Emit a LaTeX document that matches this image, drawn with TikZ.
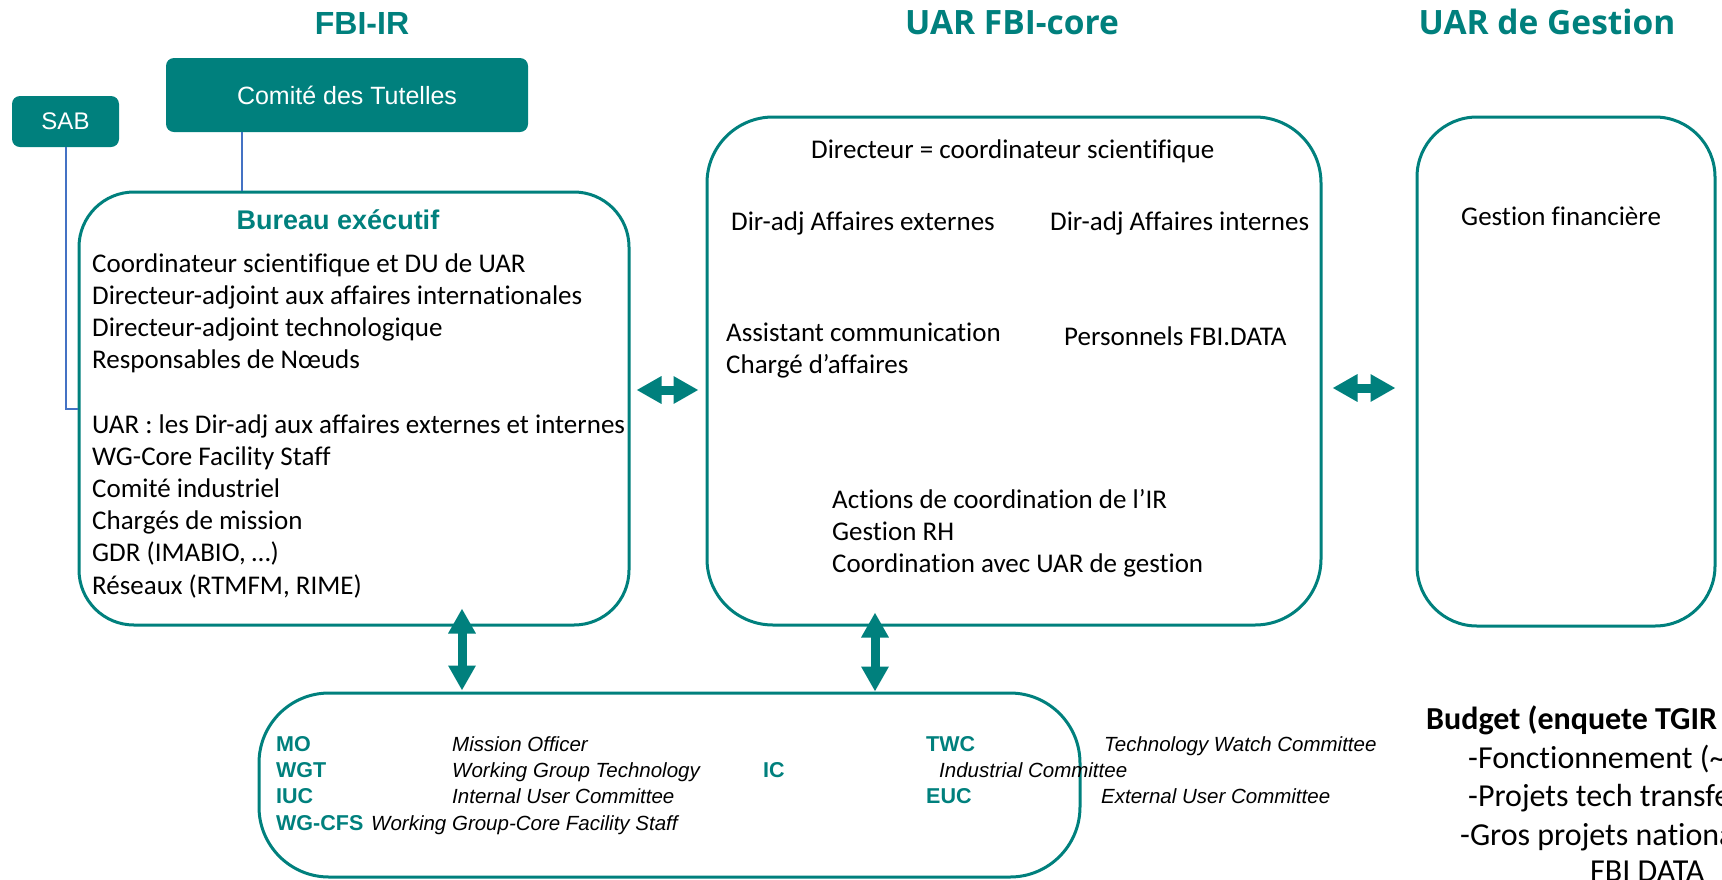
\documentclass[tikz,border=0pt]{standalone}
\usepackage{fontspec}
\setmainfont{Carlito}[Ligatures=NoCommon]
\newfontfamily\osans{Open Sans}
\newfontfamily\lsans{Liberation Sans}
\usetikzlibrary{arrows.meta}
\definecolor{tealc}{RGB}{0,128,125}
\definecolor{linkblue}{RGB}{68,114,196}
\tikzset{
  box/.style={draw=tealc, line width=3pt, rounded corners=#1, inner sep=0pt},
  fillbox/.style={fill=tealc, rounded corners=8pt, inner sep=0pt, text=white,
    font=\lsans\fontsize{25}{30}\selectfont},
  title/.style={anchor=base, inner sep=0pt, text=tealc,
    font=\osans\bfseries\fontsize{33.5}{40}\selectfont},
  body/.style={anchor=base west, inner sep=0pt, text=black,
    font=\fontsize{27}{32.2}\selectfont},
  bud/.style={anchor=base west, inner sep=0pt, text=black,
    font=\fontsize{32}{38}\selectfont},
  abbr/.style={anchor=base west, inner sep=0pt, text=tealc,
    font=\lsans\bfseries\fontsize{21.5}{25}\selectfont},
  desc/.style={anchor=base west, inner sep=0pt, text=black,
    font=\lsans\itshape\fontsize{20.5}{24}\selectfont},
  link/.style={draw=linkblue, line width=2pt},
  dbl/.style={draw=tealc, line width=9pt,
    {Triangle[width=26pt,length=25pt]}-{Triangle[width=26pt,length=25pt]}}
}
\begin{document}
\begin{tikzpicture}[x=1pt,y=-1pt]
\useasboundingbox (0,0) rectangle (1722,879);
\clip (0,0) rectangle (1722,879);

% titles
\node[title, font=\lsans\bfseries\fontsize{32}{38}\selectfont] (t1) at (362,34) {FBI-IR};
\node[title] (t2) at (1012,34) {UAR FBI-core};
\node[title] (t3) at (1547,34) {UAR de Gestion};

% main boxes
\node[box=55pt, minimum width=550pt, minimum height=433pt] (bur) at (354,408.5) {};
\node[box=66pt, minimum width=614pt, minimum height=508pt] (mid) at (1014,371) {};
\node[box=60pt, minimum width=298pt, minimum height=509pt] (ges) at (1566,371.5) {};
\node[box=70pt, minimum width=821pt, minimum height=184pt] (bot) at (669.5,785) {};

% filled boxes
\node[fillbox, minimum width=362pt, minimum height=74pt] (com) at (347,95) {Comité des Tutelles};
\node[fillbox, minimum width=107pt, minimum height=51pt, font=\lsans\fontsize{24}{29}\selectfont] (sab) at (65.5,121.5) {SAB};

% links
\coordinate (tx) at (242,0);
\draw[link] (com.south -| tx) -- (bur.north -| tx);
\draw[link] (sab.south) |- (bur.west);

% Bureau
\node[anchor=base, inner sep=0pt, text=tealc, font=\lsans\bfseries\fontsize{27}{32}\selectfont] (bt) at (338,229) {Bureau exécutif};
\node[body] (b1) at (92,272) {Coordinateur scientifique et DU de UAR};
\node[body] (b2) at (92,304.2) {Directeur-adjoint aux affaires internationales};
\node[body] (b3) at (92,336.4) {Directeur-adjoint technologique};
\node[body] (b4) at (92,368.6) {Responsables de Nœuds};
\node[body] (b5) at (92,433) {UAR : les Dir-adj aux affaires externes et internes};
\node[body] (b6) at (92,465.2) {WG-Core Facility Staff};
\node[body] (b7) at (92,497.4) {Comité industriel};
\node[body] (b8) at (92,529.6) {Chargés de mission};
\node[body] (b9) at (92,561.8) {GDR (IMABIO, …)};
\node[body] (b10) at (92,594) {Réseaux (RTMFM, RIME)};

% Middle
\node[body] (m1) at (811,158) {Directeur = coordinateur scientifique};
\node[body] (m2) at (731,230) {Dir-adj Affaires externes};
\node[body] (m3) at (1050,230) {Dir-adj Affaires internes};
\node[body] (m4) at (726,341) {Assistant communication};
\node[body] (m5) at (726,373) {Chargé d’affaires};
\node[body] (m6) at (1064,345) {Personnels FBI.DATA};
\node[body] (m7) at (832,508) {Actions de coordination de l’IR};
\node[body] (m8) at (832,540) {Gestion RH};
\node[body] (m9) at (832,572) {Coordination avec UAR de gestion};

% Gestion
\node[body] (g1) at (1461,225) {Gestion financière};

% bottom legend
\node[abbr] (a1) at (276,751) {MO};
\node[desc] (d1) at (452,751) {Mission Officer};
\node[abbr] (a2) at (926,751) {TWC};
\node[desc] (d2) at (1104,751) {Technology Watch Committee};
\node[abbr] (a3) at (276,777) {WGT};
\node[desc] (d3) at (452,777) {Working Group Technology};
\node[abbr] (a4) at (763,777) {IC};
\node[desc] (d4) at (939,777) {Industrial Committee};
\node[abbr] (a5) at (276,803) {IUC};
\node[desc] (d5) at (452,803) {Internal User Committee};
\node[abbr] (a6) at (926,803) {EUC};
\node[desc] (d6) at (1101,803) {External User Committee};
\node[abbr] (a7) at (276,830) {WG-CFS};
\node[desc] (d7) at (371,830) {Working Group-Core Facility Staff};

% Budget
\node[bud, font=\bfseries\fontsize{32}{38}\selectfont] (u0) at (1426,729) {Budget (enquete TGIR (};
\node[bud] (u1) at (1468,768) {-Fonctionnement (\textasciitilde};
\node[bud] (u2) at (1468,806) {-Projets tech transfe};
\node[bud] (u3) at (1460,845) {-Gros projets nationa};
\node[bud] (u4) at (1590,881) {FBI DATA};

% arrows
\coordinate (h1) at (0,390);
\coordinate (h2) at (0,388);
\coordinate (v1) at (462,0);
\coordinate (v2) at (875,0);
\draw[dbl, shorten <=6pt, shorten >=7pt] (bur.east |- h1) -- (mid.west |- h1);
\draw[dbl, shorten <=10pt, shorten >=20pt] (mid.east |- h2) -- (ges.west |- h2);
\draw[dbl, shorten <=-18pt, shorten >=1pt] (bur.south -| v1) -- (bot.north -| v1);
\draw[dbl, shorten <=-14pt, shorten >=0pt] (mid.south -| v2) -- (bot.north -| v2);
\end{tikzpicture}
\end{document}
